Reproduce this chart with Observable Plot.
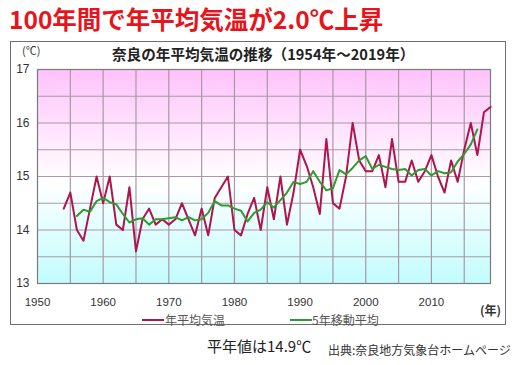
<!DOCTYPE html>
<html><head><meta charset="utf-8">
<script src="https://cdn.jsdelivr.net/npm/d3@7"></script>
<script src="https://cdn.jsdelivr.net/npm/@observablehq/plot@0.6"></script>
<style>
body{margin:0;background:#fff;}
#wrap{position:relative;width:525px;height:365px;overflow:hidden;font-family:"Noto Sans CJK JP","Noto Sans",sans-serif;background:#fff;}
#wrap svg{position:absolute;left:0;top:0;}
.t{position:absolute;white-space:nowrap;line-height:1;}
#box{position:absolute;left:10px;top:41px;width:494px;height:282px;border:1px solid #6e6e6e;pointer-events:none;}
.lg{position:absolute;height:2px;}
</style></head><body><div id="wrap"></div>
<script>
// Annual mean temperature in Nara (°C)
const years = [1954,1955,1956,1957,1958,1959,1960,1961,1962,1963,1964,1965,1966,1967,1968,1969,1970,1971,1972,1973,1974,1975,1976,1977,1978,1979,1980,1981,1982,1983,1984,1985,1986,1987,1988,1989,1990,1991,1992,1993,1994,1995,1996,1997,1998,1999,2000,2001,2002,2003,2004,2005,2006,2007,2008,2009,2010,2011,2012,2013,2014,2015,2016,2017,2018,2019];
const temps = [14.4,14.7,14.0,13.8,14.4,15.0,14.5,15.0,14.1,14.0,14.8,13.6,14.2,14.4,14.1,14.2,14.1,14.2,14.5,14.2,13.9,14.4,13.9,14.6,14.8,15.0,14.0,13.9,14.3,14.6,14.0,14.8,14.2,15.0,14.1,14.7,15.5,15.2,14.8,14.3,15.7,14.5,14.4,15.0,16.0,15.3,15.1,15.1,15.4,14.8,15.7,14.9,14.9,15.3,14.9,15.1,15.4,15.0,14.7,15.3,14.9,15.5,16.0,15.4,16.2,16.3];
// 5-year moving average
const maYears = [1956,1957,1958,1959,1960,1961,1962,1963,1964,1965,1966,1967,1968,1969,1970,1971,1972,1973,1974,1975,1976,1977,1978,1979,1980,1981,1982,1983,1984,1985,1986,1987,1988,1989,1990,1991,1992,1993,1994,1995,1996,1997,1998,1999,2000,2001,2002,2003,2004,2005,2006,2007,2008,2009,2010,2011,2012,2013,2014,2015,2016,2017];
const maTemps = [14.26,14.38,14.34,14.54,14.60,14.52,14.48,14.30,14.14,14.20,14.22,14.10,14.20,14.20,14.22,14.24,14.18,14.24,14.18,14.20,14.32,14.54,14.46,14.46,14.40,14.36,14.16,14.32,14.38,14.52,14.42,14.56,14.70,14.90,14.86,14.90,15.10,14.90,14.74,14.78,15.12,15.04,15.16,15.30,15.38,15.14,15.22,15.18,15.14,15.12,15.14,15.02,15.12,15.14,15.02,15.10,15.06,15.08,15.28,15.42,15.60,15.88];
const xTicks = [1950,1960,1970,1980,1990,2000,2010];
const yTicks = [13,14,15,16,17];
const gridX = [1955,1960,1965,1970,1975,1980,1985,1990,1995,2000,2005,2010,2015];
const gridY = [13.5,14,14.5,15,15.5,16,16.5];
const seriesNames = ["年平均気温","5年移動平均"];

const annual = years.map((y,i)=>({year:y, t:temps[i]}));
const moving = maYears.map((y,i)=>({year:y, t:maTemps[i]}));

const RED = "#b0144e", GREEN = "#2f9a2f";

const chart = Plot.plot({
  width: 525, height: 365,
  marginLeft: 37, marginRight: 35, marginTop: 69, marginBottom: 82,
  style: {background: "transparent", fontFamily: "'Liberation Sans', Arial, sans-serif", fontSize: "12px", color: "#333"},
  x: {domain: [1950, 2019], label: null},
  y: {domain: [13, 17], label: null},
  marks: [
    Plot.frame({fill: "url(#bg)", stroke: "none"}),
    Plot.ruleX(gridX, {stroke: "#a898a8", strokeWidth: 1.2}),
    Plot.ruleY(gridY, {stroke: "#a898a8", strokeWidth: 1.2}),
    Plot.frame({stroke: "#7a7a7a", strokeWidth: 1.2}),
    Plot.axisX(xTicks, {tickSize: 0, tickPadding: 14, tickFormat: d => String(d), fontSize: 11.5}),
    Plot.axisY(yTicks, {tickSize: 0, tickPadding: 8, tickFormat: d => String(d), fontSize: 12}),
    Plot.line(annual, {x: "year", y: "t", stroke: RED, strokeWidth: 2}),
    Plot.line(moving, {x: "year", y: "t", stroke: GREEN, strokeWidth: 2})
  ]
});
d3.select(chart).insert("defs", ":first-child").html(
  '<linearGradient id="bg" x1="0" y1="0" x2="0" y2="1">' +
  '<stop offset="0" stop-color="#ffc2fb"/>' +
  '<stop offset="0.52" stop-color="#ffffff"/>' +
  '<stop offset="1" stop-color="#c2fcfc"/></linearGradient>');

const wrap = document.getElementById("wrap");
wrap.appendChild(chart);

function addText(txt, css) {
  const d = document.createElement("div");
  d.className = "t"; d.textContent = txt; d.style.cssText += css;
  wrap.appendChild(d); return d;
}
const box = document.createElement("div"); box.id = "box"; wrap.appendChild(box);

addText("100年間で年平均気温が2.0℃上昇", "left:9px;top:7px;font-size:24.5px;font-weight:700;color:#e8141c;");
addText("奈良の年平均気温の推移（1954年～2019年）", "left:112px;top:47px;font-size:14.6px;font-weight:700;color:#222;");
addText("(℃)", "left:22px;top:45px;font-size:11px;color:#333;");
addText("(年)", "left:480px;top:304px;font-size:12px;font-weight:700;color:#333;");

// legend
const l1 = document.createElement("div"); l1.className = "lg";
l1.style.cssText += `left:142px;top:319px;width:22px;background:${RED};`; wrap.appendChild(l1);
addText(seriesNames[0], "left:165px;top:314px;font-size:12px;color:#555;");
const l2 = document.createElement("div"); l2.className = "lg";
l2.style.cssText += `left:290px;top:319px;width:22px;background:${GREEN};`; wrap.appendChild(l2);
addText(seriesNames[1], "left:312px;top:314px;font-size:12px;color:#555;");

addText("平年値は14.9℃", "left:207px;top:338px;font-size:15px;color:#222;");
addText("出典:奈良地方気象台ホームページ", "left:328px;top:344px;font-size:12px;color:#333;");
</script>
</body></html>
